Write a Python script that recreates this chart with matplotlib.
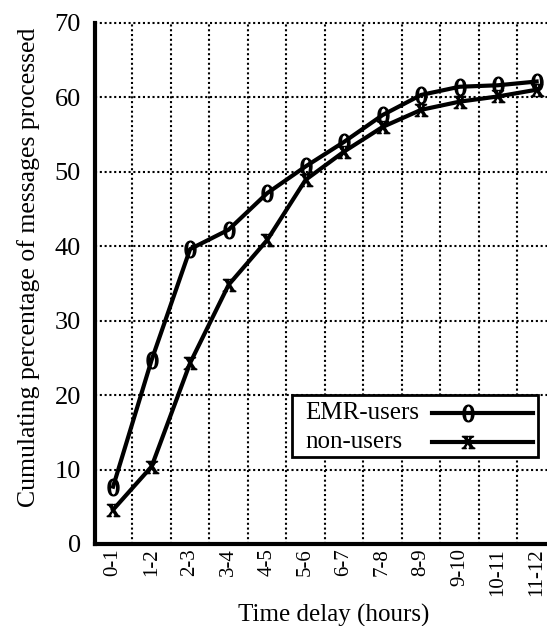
import numpy as np
import matplotlib
matplotlib.use("Agg")
from matplotlib import pyplot as plt
from matplotlib.patches import Rectangle
from matplotlib.lines import Line2D

# time bins and cumulative percentages
delays = ["0-1", "1-2", "2-3", "3-4", "4-5", "5-6", "6-7", "7-8", "8-9", "9-10", "10-11", "11-12"]
emrUsers = [7.7, 24.7, 39.6, 42.2, 47.1, 50.7, 54.0, 57.6, 60.3, 61.4, 61.6, 62.1]
nonUsers = [4.6, 10.4, 24.3, 34.8, 40.8, 48.9, 52.7, 56.0, 58.3, 59.4, 60.1, 61.0]
yTicks = [0, 10, 20, 30, 40, 50, 60, 70]
seriesNames = ["EMR-users", "non-users"]

plt.rcParams['font.family'] = ['Liberation Serif', 'DejaVu Serif']
plt.rcParams['mathtext.fontset'] = 'stix'

fig = plt.figure(figsize=(5.47, 6.26), dpi=100)
ax = fig.add_axes([95/547, 1-544/626, (547-95)/547, (544-22.7)/626])

zeroMark = r"$\mathrm{0}$"
xMark = r"$\mathrm{x}$"

x = np.arange(len(delays))
ax.plot(x, emrUsers, color="black", lw=3, marker=zeroMark, markersize=12,
        solid_joinstyle="round", zorder=3)
ax.plot(x, nonUsers, color="black", lw=3, marker=xMark, markersize=9,
        solid_joinstyle="round", zorder=3)

ax.set_xlim(-0.47, 11.27)
ax.set_ylim(0, 70)
ax.set_yticks(yTicks)
ax.set_xticks(x)
ax.set_xticklabels(delays, rotation=90, fontsize=15, va="top")

# dotted grid, vertical lines between the bins
for v in yTicks[1:]:
    ax.axhline(v, color="black", ls=(0, (1, 1.3)), lw=1.5, clip_on=False, zorder=1)
for g in x[:-1] + 0.5:
    ax.axvline(g, color="black", ls=(0, (1, 1.3)), lw=1.5, zorder=1)

for s in ["top", "right"]:
    ax.spines[s].set_visible(False)
ax.spines["left"].set_linewidth(3)
ax.spines["bottom"].set_linewidth(3)
ax.tick_params(axis="both", length=0)
ax.tick_params(axis="y", labelsize=19, pad=10)
ax.tick_params(axis="x", pad=3)

ax.set_xlabel("Time delay (hours)", fontsize=18)
ax.xaxis.set_label_coords(0.527, -0.115)
ax.set_ylabel("Cumulating percentage of messages processed", fontsize=18.5)
ax.yaxis.set_label_coords(-0.122, 0.53)

# legend box drawn by hand: labels left, line samples right
ax.add_patch(Rectangle((0.436, 0.167), 0.544, 0.119, transform=ax.transAxes,
                       facecolor="white", edgecolor="black", lw=2, zorder=4))
rows = [0.252, 0.196]
marks = [(zeroMark, 12), (xMark, 9)]
for name, yy, (mk, ms) in zip(seriesNames, rows, marks):
    ax.text(0.465, yy, name, transform=ax.transAxes, fontsize=18,
            va="center", ha="left", zorder=5)
    ax.add_line(Line2D([0.746, 0.968], [yy, yy], transform=ax.transAxes,
                       color="black", lw=3, zorder=5))
    ax.add_line(Line2D([0.825], [yy], transform=ax.transAxes, color="black",
                       marker=mk, markersize=ms, lw=0, zorder=6))

fig.savefig("out.png", dpi=100)
